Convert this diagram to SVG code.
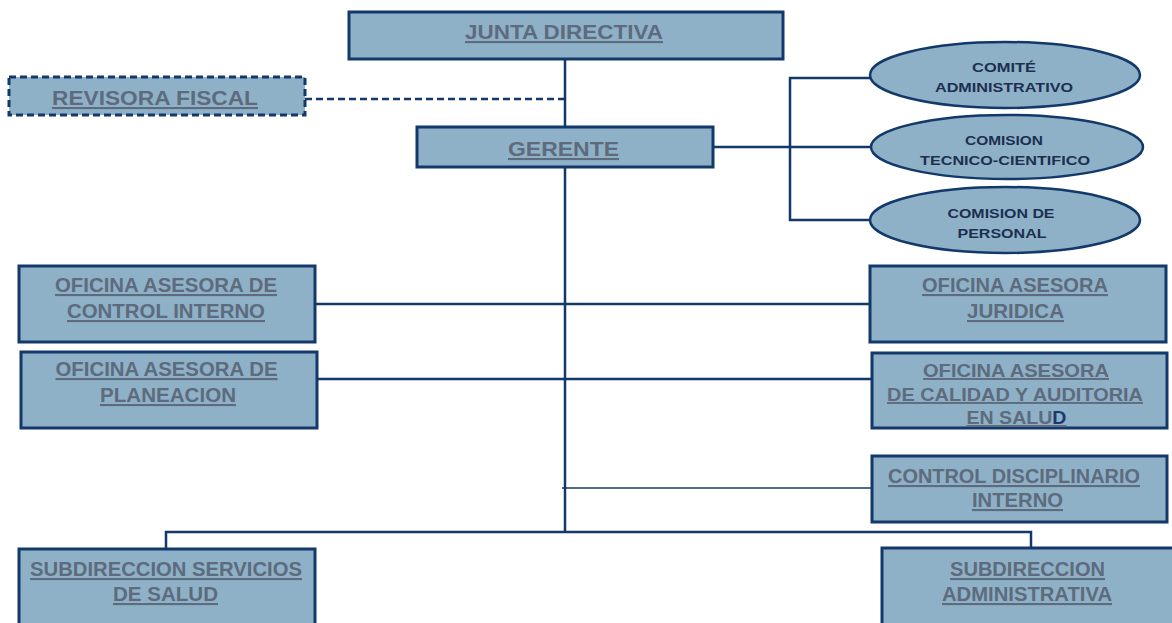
<svg xmlns="http://www.w3.org/2000/svg" width="1172" height="623" viewBox="0 0 1172 623">
<style>
.box{fill:#8eb1c8;stroke:#12396a;stroke-width:3}
.dash{stroke-dasharray:7 4}
.ell{fill:#8eb1c8;stroke:#12396a;stroke-width:2.5}
.t{font-family:"Liberation Sans",Arial,sans-serif;font-weight:bold;font-size:21px;fill:#5d6b7c;text-anchor:middle;text-decoration:underline}
.s{font-size:19px}
.e{font-family:"Liberation Sans",Arial,sans-serif;font-weight:bold;font-size:13px;fill:#1c2f50;text-anchor:middle}
.c{fill:none;stroke:#12396a;stroke-width:2.5}
.thin{stroke-width:1.5}
</style>
<g id="connectors">
<path class="c" d="M565 59 V127"/>
<path class="c dash" d="M305 99 H565"/>
<path class="c" d="M565 167 V532"/>
<path class="c" d="M166 549 V532 H1031 V548"/>
<path class="c" d="M315 304 H870"/>
<path class="c" d="M317 379 H872"/>
<path class="c thin" d="M562 488 H872"/>
<path class="c" d="M713 147 H872"/>
<path class="c" d="M870 78 H790 V220 H870"/>
</g>
<g id="junta">
<rect class="box" x="349" y="12" width="434" height="47"/>
<text class="t" x="564" y="39" textLength="198" lengthAdjust="spacingAndGlyphs">JUNTA DIRECTIVA</text>
</g>
<g id="revisora">
<rect class="box dash" x="9" y="77" width="296" height="38"/>
<text class="t" x="155" y="105" textLength="206" lengthAdjust="spacingAndGlyphs">REVISORA FISCAL</text>
</g>
<g id="gerente">
<rect class="box" x="417" y="127" width="296" height="40"/>
<text class="t" x="563.5" y="156" textLength="111" lengthAdjust="spacingAndGlyphs">GERENTE</text>
</g>
<g id="comite">
<ellipse class="ell" cx="1005" cy="75" rx="135" ry="33"/>
<text class="e" x="1004" y="72" textLength="64" lengthAdjust="spacingAndGlyphs">COMITÉ</text>
<text class="e" x="1004" y="92" textLength="138" lengthAdjust="spacingAndGlyphs">ADMINISTRATIVO</text>
</g>
<g id="comision-tecnico">
<ellipse class="ell" cx="1007" cy="147" rx="136" ry="32"/>
<text class="e" x="1004" y="145" textLength="78" lengthAdjust="spacingAndGlyphs">COMISION</text>
<text class="e" x="1005" y="165" textLength="170" lengthAdjust="spacingAndGlyphs">TECNICO-CIENTIFICO</text>
</g>
<g id="comision-personal">
<ellipse class="ell" cx="1005" cy="220" rx="135" ry="33"/>
<text class="e" x="1001" y="218" textLength="107" lengthAdjust="spacingAndGlyphs">COMISION DE</text>
<text class="e" x="1002" y="238" textLength="89" lengthAdjust="spacingAndGlyphs">PERSONAL</text>
</g>
<g id="control-interno">
<rect class="box" x="19" y="266" width="296" height="76"/>
<text class="t" x="166" y="292" textLength="222" lengthAdjust="spacingAndGlyphs">OFICINA ASESORA DE</text>
<text class="t" x="166" y="318" textLength="198" lengthAdjust="spacingAndGlyphs">CONTROL INTERNO</text>
</g>
<g id="planeacion">
<rect class="box" x="21" y="352" width="296" height="76"/>
<text class="t" x="166.5" y="376" textLength="222" lengthAdjust="spacingAndGlyphs">OFICINA ASESORA DE</text>
<text class="t" x="168" y="402" textLength="136" lengthAdjust="spacingAndGlyphs">PLANEACION</text>
</g>
<g id="juridica">
<rect class="box" x="870" y="266" width="296" height="76"/>
<text class="t" x="1015" y="292" textLength="186" lengthAdjust="spacingAndGlyphs">OFICINA ASESORA</text>
<text class="t" x="1015.5" y="318" textLength="97" lengthAdjust="spacingAndGlyphs">JURIDICA</text>
</g>
<g id="calidad">
<rect class="box" x="872" y="353" width="295" height="75"/>
<text class="t s" x="1016" y="377" textLength="186" lengthAdjust="spacingAndGlyphs">OFICINA ASESORA</text>
<text class="t s" x="1015" y="401" textLength="256" lengthAdjust="spacingAndGlyphs">DE CALIDAD Y AUDITORIA</text>
<text class="t s" x="1016.5" y="424" textLength="100" lengthAdjust="spacingAndGlyphs">EN SALU<tspan fill="#1c3a6e">D</tspan></text>
</g>
<g id="disciplinario">
<rect class="box" x="872" y="456" width="295" height="66"/>
<text class="t" x="1014" y="483" textLength="252" lengthAdjust="spacingAndGlyphs">CONTROL DISCIPLINARIO</text>
<text class="t" x="1017.5" y="507" textLength="91" lengthAdjust="spacingAndGlyphs">INTERNO</text>
</g>
<g id="subdir-salud">
<rect class="box" x="19" y="549" width="296" height="80"/>
<text class="t" x="166" y="576" textLength="272" lengthAdjust="spacingAndGlyphs">SUBDIRECCION SERVICIOS</text>
<text class="t" x="165.5" y="601" textLength="105" lengthAdjust="spacingAndGlyphs">DE SALUD</text>
</g>
<g id="subdir-admin">
<rect class="box" x="882" y="548" width="300" height="80"/>
<text class="t" x="1027.5" y="576" textLength="155" lengthAdjust="spacingAndGlyphs">SUBDIRECCION</text>
<text class="t" x="1027" y="601" textLength="170" lengthAdjust="spacingAndGlyphs">ADMINISTRATIVA</text>
</g>
</svg>
